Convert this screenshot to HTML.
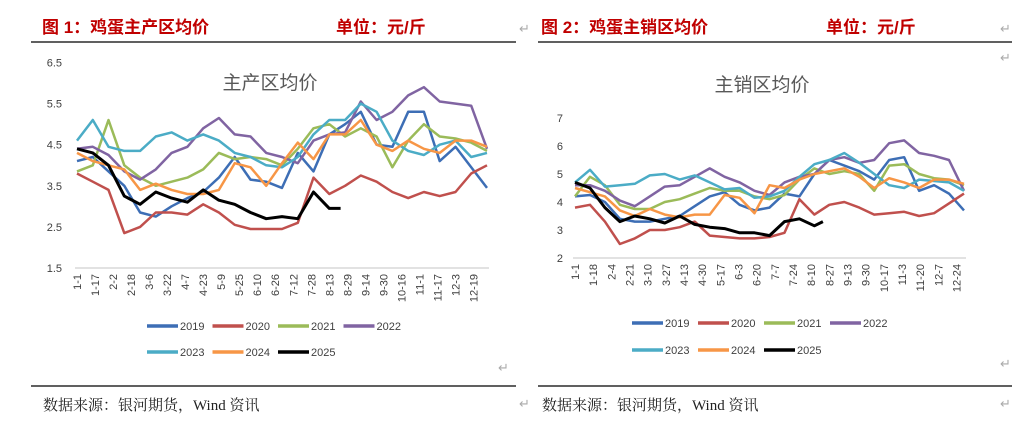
<!DOCTYPE html>
<html><head><meta charset="utf-8">
<style>
html,body{margin:0;padding:0;background:#fff;width:1028px;height:424px;overflow:hidden}
svg{display:block}
.hdr{font-family:"Liberation Sans","Noto Sans CJK SC",sans-serif;font-weight:bold;font-size:17px;fill:#c00000}
.src{font-family:"Liberation Serif","Noto Serif CJK SC",serif;font-size:15px;fill:#222}
.tick{font-family:"Liberation Sans",sans-serif;font-size:11px;fill:#404040}
.ttl{font-family:"Liberation Sans","Noto Sans CJK SC",sans-serif;font-size:19px;fill:#595959}
.ret{font-family:"Liberation Sans",sans-serif;font-size:13px;fill:#aaa}
</style></head>
<body>
<svg id="page" width="1028" height="424" viewBox="0 0 1028 424">
<text class="hdr" x="42" y="33">图 1：鸡蛋主产区均价</text>
<text class="hdr" x="336" y="33">单位：元/斤</text>
<text class="ret" x="440" y="33"></text>
<text class="hdr" x="541" y="33">图 2：鸡蛋主销区均价</text>
<text class="hdr" x="826" y="33">单位：元/斤</text>
<text class="ret" x="519" y="33">↵</text>
<text class="ret" x="1000" y="33">↵</text>
<text class="ret" x="1000" y="62">↵</text>
<text class="ret" x="498" y="372">↵</text>
<text class="ret" x="1000" y="368">↵</text>
<text class="ret" x="519" y="408">↵</text>
<text class="ret" x="1000" y="408">↵</text>
<line x1="31" y1="42" x2="516" y2="42" stroke="#000" stroke-width="1.2"/>
<line x1="538" y1="42" x2="1012" y2="42" stroke="#000" stroke-width="1.2"/>
<line x1="31" y1="386" x2="516" y2="386" stroke="#000" stroke-width="1.2"/>
<line x1="538" y1="386" x2="1012" y2="386" stroke="#000" stroke-width="1.2"/>
<text class="src" x="43" y="410">数据来源：银河期货，Wind 资讯</text>
<text class="src" x="542" y="410">数据来源：银河期货，Wind 资讯</text>
<g id="c1"></g>
<g id="c2"></g>
</svg>
<script>
const years = ["2019","2020","2021","2022","2023","2024","2025"];
const colors = ["#3d6eb5","#c0504d","#9bbb59","#8064a2","#4bacc6","#f79646","#000000"];
const days = [0,14,28,42,56,70,84,98,112,126,140,154,168,182,196,210,224,238,252,266,280,294,308,322,336,350,364];
const days25L = [0,14,28,42,56,70,84,98,112,126,140,154,168,182,196,210,224,234];
const days25R = [0,14,28,42,56,70,84,98,112,126,140,154,168,182,196,210,224,232];

const L2019 = [4.1,4.2,3.85,3.5,2.85,2.75,3.0,3.2,3.35,3.7,4.2,3.65,3.6,3.45,4.3,3.85,4.75,5.0,5.3,4.5,4.45,5.3,5.3,4.1,4.45,3.95,3.45];
const L2020 = [3.8,3.6,3.4,2.35,2.5,2.85,2.85,2.8,3.05,2.85,2.55,2.45,2.45,2.45,2.6,3.7,3.3,3.5,3.75,3.6,3.35,3.2,3.35,3.25,3.35,3.8,4.0];
const L2021 = [3.85,4.0,5.1,4.0,3.7,3.5,3.6,3.7,3.9,4.3,4.15,4.2,4.15,4.0,4.4,4.9,5.0,4.7,4.9,4.7,3.95,4.6,5.0,4.7,4.65,4.55,4.35];
const L2022 = [4.4,4.45,4.25,3.85,3.65,3.9,4.3,4.45,4.9,5.15,4.75,4.7,4.3,4.2,4.05,4.6,4.75,4.8,5.55,5.1,5.3,5.7,5.9,5.55,5.5,5.45,4.4];
const L2023 = [4.6,5.1,4.45,4.35,4.35,4.7,4.8,4.6,4.75,4.6,4.3,4.2,4.0,3.95,4.2,4.75,5.1,5.1,5.5,5.3,4.6,4.35,4.25,4.5,4.6,4.2,4.3];
const L2024 = [4.3,4.1,4.0,3.9,3.4,3.55,3.4,3.3,3.3,3.4,4.05,3.95,3.5,4.05,4.55,4.15,4.75,4.75,5.1,4.5,4.35,4.6,4.4,4.3,4.6,4.6,4.45];
const L2025 = [4.4,4.3,4.0,3.25,3.05,3.35,3.2,3.1,3.4,3.15,3.05,2.85,2.7,2.75,2.7,3.35,2.95,2.95];

const R2019 = [4.2,4.25,4.0,3.4,3.3,3.3,3.4,3.5,3.85,4.2,4.35,3.9,3.7,3.8,4.3,4.2,5.0,5.5,5.3,5.1,4.8,5.5,5.6,4.4,4.6,4.3,3.7];
const R2020 = [3.8,3.9,3.3,2.5,2.7,3.0,3.0,3.1,3.3,2.8,2.75,2.7,2.7,2.75,2.9,4.1,3.55,3.9,4.0,3.8,3.55,3.6,3.65,3.5,3.6,3.95,4.3];
const R2021 = [4.2,4.9,4.6,3.9,3.75,3.75,4.0,4.1,4.3,4.5,4.4,4.4,4.2,4.1,4.25,4.8,5.2,5.0,5.1,5.0,4.4,5.3,5.35,5.0,4.85,4.8,4.6];
const R2022 = [4.6,4.6,4.4,4.05,3.85,4.2,4.55,4.6,4.9,5.2,4.9,4.7,4.4,4.25,4.7,4.9,5.0,5.5,5.6,5.4,5.5,6.1,6.2,5.75,5.65,5.5,4.4];
const R2023 = [4.7,5.15,4.55,4.6,4.65,4.95,5.0,4.8,4.95,4.7,4.45,4.5,4.15,4.2,4.4,4.9,5.35,5.5,5.75,5.4,5.0,4.6,4.5,4.8,4.75,4.7,4.4];
const R2024 = [4.5,4.35,4.2,3.7,3.5,3.75,3.55,3.45,3.55,3.55,4.25,4.15,3.6,4.6,4.5,4.8,5.0,5.1,5.2,4.9,4.5,4.85,4.7,4.5,4.8,4.8,4.65];
const R2025 = [4.7,4.5,3.8,3.3,3.5,3.4,3.25,3.5,3.2,3.1,3.05,2.9,2.9,2.8,3.3,3.4,3.15,3.3];

const ticksL = ["1.5","2.5","3.5","4.5","5.5","6.5"];
const ticksR = ["2","3","4","5","6","7"];
const catsL = ["1-1","1-17","2-2","2-18","3-6","3-22","4-7","4-23","5-9","5-25","6-10","6-26","7-12","7-28","8-13","8-29","9-14","9-30","10-16","11-1","11-17","12-3","12-19"];
const catsR = ["1-1","1-18","2-4","2-21","3-10","3-27","4-13","4-30","5-17","6-3","6-20","7-7","7-24","8-10","8-27","9-13","9-30","10-17","11-3","11-20","12-7","12-24"];

const NS="http://www.w3.org/2000/svg";
function mk(parent,tag,attrs){const e=document.createElementNS(NS,tag);for(const k in attrs)e.setAttribute(k,attrs[k]);parent.appendChild(e);return e;}

function drawChart(g,cfg){
  const xs=d=>cfg.x0+(cfg.x1-cfg.x0)*d/364;
  const ys=v=>cfg.yBot-(v-cfg.vMin)/(cfg.vMax-cfg.vMin)*(cfg.yBot-cfg.yTop);
  const t=mk(g,"text",{class:"ttl",x:cfg.titleX,y:cfg.titleY,"text-anchor":"middle"});
  
  
  t.textContent=cfg.title;
  cfg.ticks.forEach(s=>{
    const tx=mk(g,"text",{class:"tick",x:cfg.tickX,y:ys(parseFloat(s))+4,"text-anchor":"end"});
    
    
    tx.textContent=s;
  });
  const ax=mk(g,"line",{x1:cfg.x0-2,x2:cfg.x1+2,y1:cfg.yBot,y2:cfg.yBot,stroke:"#d9d9d9","stroke-width":1.5});
  
  
  cfg.cats.forEach((c,i)=>{
    const x=xs(i*cfg.step);
    const tx=mk(g,"text",{class:"tick",transform:`translate(${x+4},${cfg.yBot+6}) rotate(-90)`,"text-anchor":"end"});
    
    
    tx.textContent=c;
  });
  cfg.series.forEach((s,i)=>{
    const dd=i===6?cfg.d25:days;
    const pts=s.map((v,j)=>xs(dd[j]).toFixed(1)+","+ys(v).toFixed(1)).join(" ");
    const p=mk(g,"polyline",{points:pts,fill:"none",stroke:colors[i],"stroke-width":i===6?3:2.5,"stroke-linejoin":"round"});
    
    
  });
  years.forEach((y,i)=>{
    const row=i<4?0:1, col=i<4?i:i-4;
    const lx=cfg.legX+col*cfg.legDx, ly=cfg.legY+row*cfg.legDy;
    const lg=mk(g,"g",{});
    
    
    mk(lg,"line",{x1:lx,x2:lx+31,y1:ly,y2:ly,stroke:colors[i],"stroke-width":3.5});
    const tx=mk(lg,"text",{class:"tick",x:lx+33,y:ly+4,"font-size":"12"});
    tx.textContent=y;
  });
}

drawChart(document.getElementById('c1'),{x0:77,x1:487,yTop:62.5,yBot:268,vMin:1.5,vMax:6.5,tickX:62,title:"主产区均价",titleX:270,titleY:89,ticks:ticksL,cats:catsL,step:16,series:[L2019,L2020,L2021,L2022,L2023,L2024,L2025],d25:days25L,legX:147,legY:326,legDx:65.5,legDy:26});
drawChart(document.getElementById('c2'),{x0:575,x1:964,yTop:118,yBot:258,vMin:2,vMax:7,tickX:563,title:"主销区均价",titleX:762,titleY:91,ticks:ticksR,cats:catsR,step:17,series:[R2019,R2020,R2021,R2022,R2023,R2024,R2025],d25:days25R,legX:632,legY:323,legDx:66,legDy:27});
</script>
</body></html>
